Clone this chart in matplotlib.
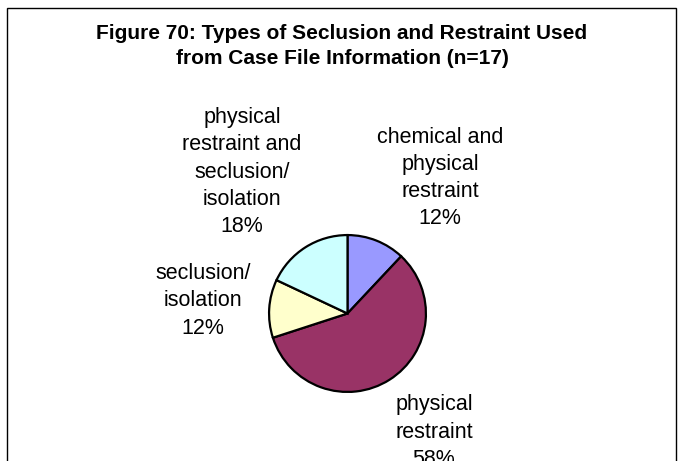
import matplotlib.pyplot as plt
from matplotlib.patches import Rectangle

plt.rcParams['font.family'] = ['Liberation Sans', 'DejaVu Sans']

title = 'Figure 70: Types of Seclusion and Restraint Used\nfrom Case File Information (n=17)'
categories = ['chemical and\nphysical\nrestraint', 'physical\nrestraint',
              'seclusion/\nisolation', 'physical\nrestraint and\nseclusion/\nisolation']
shares = [12, 58, 12, 18]
colors = ['#9999FF', '#993366', '#FFFFCC', '#CCFFFF']

W, H = 684, 461
fig = plt.figure(figsize=(W / 100, H / 100), dpi=100)

# outer chart frame (bottom edge falls outside the picture)
fig.patches.append(Rectangle((7 / W, -0.05), 669 / W, 1.05 - 8 / H, transform=fig.transFigure,
                             fill=False, edgecolor='black', linewidth=1.0))

fig.text(0.5, 1 - 46 / H, title, ha='center', va='center', fontsize=15,
         fontweight='bold', linespacing=1.45)

# pie area: centre ~ (347.5, 313.5) px, radius ~80 px
cx, cy, r = 347.5, 313.5, 80
ax = fig.add_axes([(cx - r) / W, (H - cy - r) / H, 2 * r / W, 2 * r / H])
ax.pie(shares, colors=colors, startangle=90, counterclock=False,
       wedgeprops=dict(edgecolor='black', linewidth=1.6))
ax.set_xlim(-1.02, 1.02)
ax.set_ylim(-1.02, 1.02)
ax.set_aspect('equal')

# label centres in pixels
label_pos = [(440, 178), (434, 432), (203, 301), (242, 172)]
for cat, val, (px, py) in zip(categories, shares, label_pos):
    fig.text(px / W, 1 - py / H, '%s\n%d%%' % (cat, val), ha='center', va='center',
             fontsize=15.5, linespacing=1.38)

fig.savefig('out.png', dpi=100)
